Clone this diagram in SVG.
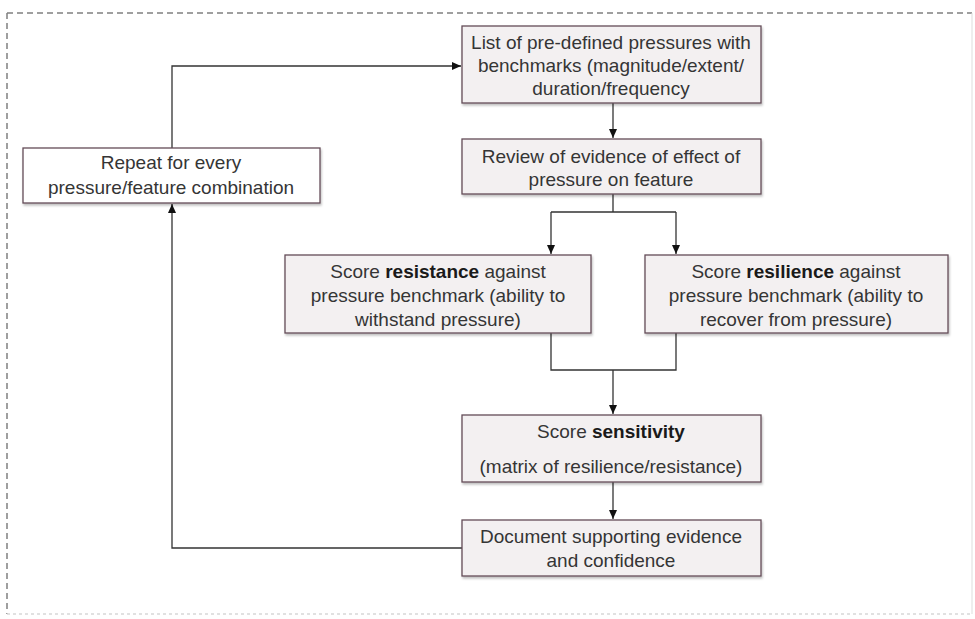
<svg xmlns="http://www.w3.org/2000/svg" width="975" height="619" viewBox="0 0 975 619">
<style>
.box{fill:#f3f0f1;stroke:#644c58;stroke-width:1.3}
.wbox{fill:#ffffff;stroke:#644c58;stroke-width:1.3}
.t{font-family:"Liberation Sans",Arial,sans-serif;font-size:19px;fill:#353535;text-anchor:middle}
.b{font-weight:bold;fill:#1a1a1a}
.c{fill:none;stroke:#333333;stroke-width:1.3}
</style>
<defs>
<marker id="ah" markerWidth="10" markerHeight="10" refX="9" refY="5" orient="auto" markerUnits="userSpaceOnUse">
<path d="M0,1 L9,5 L0,9 Z" fill="#111111"/>
</marker>
<filter id="sh" x="-5%" y="-5%" width="110%" height="120%">
<feDropShadow dx="1" dy="2" stdDeviation="1.2" flood-color="#000" flood-opacity="0.25"/>
</filter>
</defs>
<g id="frame">
<path d="M7,13 H972" fill="none" stroke="#808080" stroke-width="1.5" stroke-dasharray="6,4"/>
<path d="M7,13 V614" fill="none" stroke="#808080" stroke-width="1.5" stroke-dasharray="6,4"/>
<path d="M972,13 V614" fill="none" stroke="#dddddd" stroke-width="1"/>
<path d="M7,614 H972" fill="none" stroke="#d8d8d8" stroke-width="1.5" stroke-dasharray="3,3"/>
</g>
<g id="connectors">
<path class="c" d="M172,148 V66 H461" marker-end="url(#ah)"/>
<path class="c" d="M613,103 V138" marker-end="url(#ah)"/>
<path class="c" d="M613,194 V212 M551,212 H676"/>
<path class="c" d="M551,212 V254" marker-end="url(#ah)"/>
<path class="c" d="M676,212 V254" marker-end="url(#ah)"/>
<path class="c" d="M551,333 V370 H676 V333"/>
<path class="c" d="M613,370 V414" stroke-width="2" marker-end="url(#ah)"/>
<path class="c" d="M613,482 V519" marker-end="url(#ah)"/>
<path class="c" d="M462,548 H172 V204" marker-end="url(#ah)"/>
</g>
<g id="n-list">
<rect class="box" x="462" y="26" width="299" height="77" filter="url(#sh)"/>
<text class="t" x="611" y="49">List of pre-defined pressures with</text>
<text class="t" x="611" y="72">benchmarks (magnitude/extent/</text>
<text class="t" x="611" y="95">duration/frequency</text>
</g>
<g id="n-repeat">
<rect class="wbox" x="23" y="148" width="297" height="55" filter="url(#sh)"/>
<text class="t" x="171" y="169">Repeat for every</text>
<text class="t" x="171" y="194">pressure/feature combination</text>
</g>
<g id="n-review">
<rect class="box" x="462" y="139" width="299" height="55" filter="url(#sh)"/>
<text class="t" x="611" y="163">Review of evidence of effect of</text>
<text class="t" x="611" y="186">pressure on feature</text>
</g>
<g id="n-resistance">
<rect class="box" x="285" y="255" width="306" height="78" filter="url(#sh)"/>
<text class="t" x="438" y="278">Score <tspan class="b">resistance</tspan> against</text>
<text class="t" x="438" y="302">pressure benchmark (ability to</text>
<text class="t" x="438" y="326">withstand pressure)</text>
</g>
<g id="n-resilience">
<rect class="box" x="645" y="255" width="303" height="78" filter="url(#sh)"/>
<text class="t" x="796" y="278">Score <tspan class="b">resilience</tspan> against</text>
<text class="t" x="796" y="302">pressure benchmark (ability to</text>
<text class="t" x="796" y="326">recover from pressure)</text>
</g>
<g id="n-sensitivity">
<rect class="box" x="462" y="415" width="299" height="67" filter="url(#sh)"/>
<text class="t" x="611" y="438">Score <tspan class="b">sensitivity</tspan></text>
<text class="t" x="611" y="473">(matrix of resilience/resistance)</text>
</g>
<g id="n-document">
<rect class="box" x="462" y="520" width="299" height="56" filter="url(#sh)"/>
<text class="t" x="611" y="543">Document supporting evidence</text>
<text class="t" x="611" y="567">and confidence</text>
</g>
</svg>
